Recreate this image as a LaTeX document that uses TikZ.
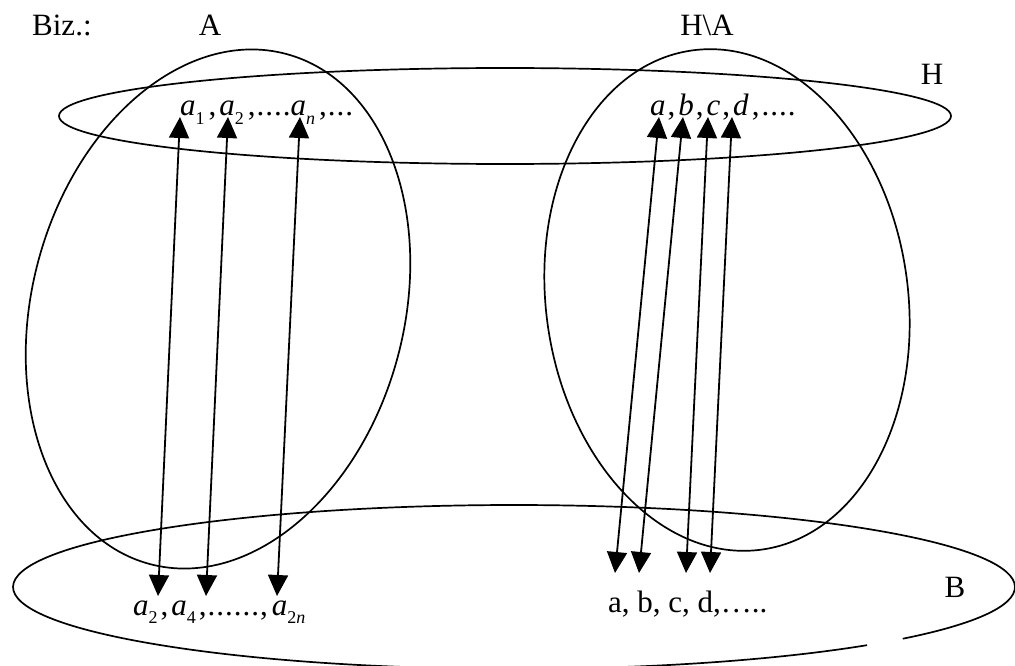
\documentclass[tikz,border=0pt]{standalone}
\usepackage{fontspec}
\setmainfont{Liberation Serif}
\usetikzlibrary{arrows.meta}
% subscript set low and small, as in the formulas
\newcommand\lowidx[1]{\raisebox{-0.28em}{\fontsize{18}{18}\selectfont #1}}
\tikzset{
  setline/.style={line width=1.7pt},
  maparrow/.style={line width=1.8pt, {Triangle[width=20pt,length=21pt]}-{Triangle[width=20pt,length=21pt]}},
  lbl/.style={inner sep=0pt, font=\fontsize{31}{31}\selectfont},
}
\begin{document}
\begin{tikzpicture}[x=1pt,y=-1pt]
\useasboundingbox (0,0) rectangle (1015,666);

% the sets
\draw[setline] (505,116) ellipse [x radius=446, y radius=48];
\draw[setline] (218,309) ellipse [x radius=186, y radius=264, rotate=-15];
\draw[setline] (727,300) ellipse [x radius=181, y radius=252, rotate=8];
% B, with its small break at the lower right
\draw[setline] ([shift={(45.2:501 and 82)}]514,587) arc[start angle=45.2, end angle=399.1, x radius=501, y radius=82];

% labels
\node[lbl, anchor=base west] (biz) at (32,36) {Biz.:};
\node[lbl, anchor=base] (lA) at (210,36) {A};
\node[lbl, anchor=base] (lHA) at (707,36) {H\textbackslash A};
\node[lbl, anchor=base] (lH) at (932,85) {H};
\node[lbl, anchor=base] (lB) at (955,597) {B};

% element lists
\node[lbl, anchor=base west] (tl) at (180,116) {\textit{a}\lowidx{1}\kern4pt,\kern3pt\textit{a}\lowidx{2}\kern4pt,\kern1pt.\kern1pt.\kern1pt.\kern1pt.\textit{a}\lowidx{\textit{n}}\kern4pt,\kern1pt.\kern1pt.\kern1pt.};
\node[lbl, anchor=base west] (tr) at (650,116) {\textit{a}\kern2pt,\kern3pt\textit{b}\kern2pt,\kern3pt\textit{c}\kern2pt,\kern3pt\textit{d}\kern3pt,\kern2pt.\kern1pt.\kern1pt.\kern1pt.};
\node[lbl, anchor=base west] (bl) at (133,615) {\textit{a}\lowidx{2}\kern3pt,\kern3pt\textit{a}\lowidx{4}\kern3pt,\kern1pt.\kern1pt.\kern1pt.\kern1pt.\kern1pt.\kern1pt.\kern1pt,\kern4pt\textit{a}\lowidx{2\textit{n}}};
\node[lbl, anchor=base west] (br) at (608,612) {a, b, c, d,\dots..};

% arrow ends
\coordinate (t1) at (180,117); \coordinate (b1) at (158,596);
\coordinate (t2) at (228,117); \coordinate (b2) at (206,596);
\coordinate (t3) at (300,117); \coordinate (b3) at (277,596);
\coordinate (u1) at (659,117); \coordinate (v1) at (615,573);
\coordinate (u2) at (683,117); \coordinate (v2) at (639,573);
\coordinate (u3) at (708,117); \coordinate (v3) at (686,573);
\coordinate (u4) at (732,117); \coordinate (v4) at (710,573);

% the correspondences
\draw[maparrow] (t1) -- (b1);
\draw[maparrow] (t2) -- (b2);
\draw[maparrow] (t3) -- (b3);
\draw[maparrow] (u1) -- (v1);
\draw[maparrow] (u2) -- (v2);
\draw[maparrow] (u3) -- (v3);
\draw[maparrow] (u4) -- (v4);
\end{tikzpicture}
\end{document}
